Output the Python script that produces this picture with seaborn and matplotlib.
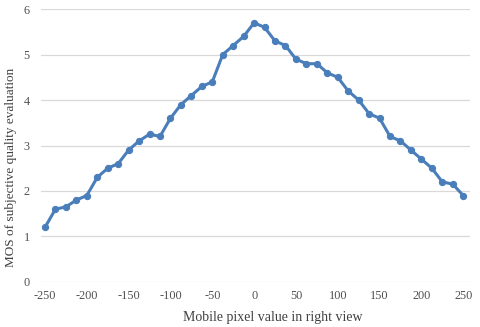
import matplotlib
matplotlib.use("Agg")
import matplotlib.pyplot as plt
import seaborn as sns
import pandas as pd

# pixel offsets (step 12.5) and MOS values
offsets = [-250, -237.5, -225, -212.5, -200, -187.5, -175, -162.5, -150, -137.5,
           -125, -112.5, -100, -87.5, -75, -62.5, -50, -37.5, -25, -12.5,
           0, 12.5, 25, 37.5, 50, 62.5, 75, 87.5, 100, 112.5,
           125, 137.5, 150, 162.5, 175, 187.5, 200, 212.5, 225, 237.5, 250]
mos = [1.2, 1.6, 1.65, 1.8, 1.9, 2.3, 2.5, 2.6, 2.9, 3.1,
       3.25, 3.2, 3.6, 3.9, 4.1, 4.3, 4.4, 5.0, 5.2, 5.4,
       5.7, 5.6, 5.3, 5.2, 4.9, 4.8, 4.8, 4.6, 4.5, 4.2,
       4.0, 3.7, 3.6, 3.2, 3.1, 2.9, 2.7, 2.5, 2.2, 2.15, 1.9]
x_ticks = [-250, -200, -150, -100, -50, 0, 50, 100, 150, 200, 250]
y_ticks = [0, 1, 2, 3, 4, 5, 6]

df = pd.DataFrame({"offset": offsets, "mos": mos})

sns.set_style("white")
plt.rcParams['font.family'] = ['Liberation Serif', 'DejaVu Serif']
plt.rcParams['axes.unicode_minus'] = False

fig = plt.figure(figsize=(4.8, 3.27), dpi=100)
ax = fig.add_axes([0.085, 0.138, 0.894, 0.834])

sns.lineplot(data=df, x="offset", y="mos", ax=ax, color="#4a7ebb",
             linewidth=2.2, marker="o", markersize=4.5,
             markeredgecolor="#4a7ebb")

ax.set_xlim(-255, 258)
ax.set_ylim(0, 6)
ax.set_xticks(x_ticks)
ax.set_yticks(y_ticks)
ax.grid(axis="y", color="#d9d9d9", linewidth=0.9)
ax.set_axisbelow(True)
for s in ax.spines.values():
    s.set_visible(False)
ax.tick_params(axis="both", length=0, labelsize=8.8, colors="#505050")
ax.tick_params(axis="y", pad=8)
ax.tick_params(axis="x", pad=6)

ax.set_xlabel("Mobile pixel value in right view", fontsize=10, color="#404040")
ax.set_ylabel("MOS of subjective quality evaluation", fontsize=9.5, color="#404040")
ax.xaxis.set_label_coords(0.54, -0.105)
ax.yaxis.set_label_coords(-0.055, 0.42)

fig.savefig("out.png", dpi=100)
